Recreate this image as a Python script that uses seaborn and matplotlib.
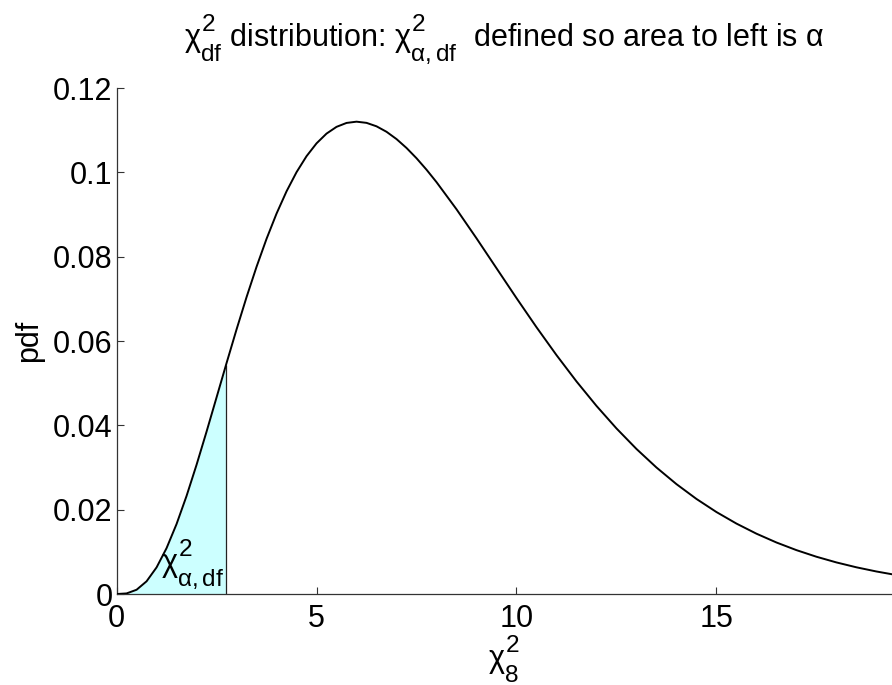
import matplotlib
matplotlib.use("Agg")
import matplotlib.pyplot as plt
import matplotlib._mathtext as _mt
import seaborn as sns
import pandas as pd

# ---- data ----
chi_x = [0.0, 0.25, 0.5, 0.75, 1.0, 1.25, 1.5, 1.75, 2.0, 2.25, 2.5, 2.75,
         3.0, 3.25, 3.5, 3.75, 4.0, 4.25, 4.5, 4.75, 5.0, 5.25, 5.5, 5.75,
         6.0, 6.25, 6.5, 6.75, 7.0, 7.25, 7.5, 7.75, 8.0, 8.5, 9.0, 9.5,
         10.0, 10.5, 11.0, 11.5, 12.0, 12.5, 13.0, 13.5, 14.0, 14.5, 15.0,
         15.5, 16.0, 16.5, 17.0, 17.5, 18.0, 18.5, 19.0, 19.5]
pdf_y = [0.0, 0.000144, 0.001014, 0.003020, 0.006318, 0.010890, 0.016607,
         0.023272, 0.030657, 0.038521, 0.046631, 0.054774, 0.062754, 0.070413,
         0.077608, 0.084240, 0.090224, 0.095504, 0.100047, 0.103838, 0.106881,
         0.109191, 0.110792, 0.111721, 0.112020, 0.111738, 0.110920, 0.109621,
         0.107893, 0.105785, 0.103350, 0.100632, 0.097683, 0.091249, 0.084359,
         0.077268, 0.070187, 0.063277, 0.056662, 0.050424, 0.044618, 0.039276,
         0.034406, 0.030009, 0.026065, 0.022552, 0.019444, 0.016709, 0.014313,
         0.012225, 0.010413, 0.008846, 0.007497, 0.006339, 0.005348, 0.004503]
crit_x = 2.733
crit_pdf = 0.0542
x_ticks = [0, 5, 10, 15]
x_tick_labels = ["0", "5", "10", "15"]
y_ticks = [0, 0.02, 0.04, 0.06, 0.08, 0.10, 0.12]
y_tick_labels = ["0", "0.02", "0.04", "0.06", "0.08", "0.1", "0.12"]
x_limits = [0, 19.39]
y_limits = [0, 0.12]

title_text = (r"$\chi^2_{\mathrm{df}}$ distribution: $\chi^2_{\alpha,\mathrm{df}}$"
              r"  defined so area to left is $\alpha$")
x_label = r"$\chi^2_8$"
y_label = "pdf"
area_label = r"$\chi^2_{\alpha,\mathrm{df}}$"

# ---- style ----
sns.set_theme(style="ticks")
plt.rcParams["font.family"] = ["Liberation Sans", "DejaVu Sans"]
plt.rcParams["mathtext.fontset"] = "custom"
plt.rcParams["mathtext.rm"] = "Liberation Sans"
plt.rcParams["mathtext.it"] = "Liberation Sans"
plt.rcParams["mathtext.bf"] = "Liberation Sans:bold"
plt.rcParams["mathtext.sf"] = "Liberation Sans"
plt.rcParams["text.color"] = "black"
plt.rcParams["axes.labelcolor"] = "black"

# MATLAB-like placement / size of stacked sub/superscripts
_mt.SHRINK_FACTOR = 0.8
_mt.FontConstantsBase.sup1 = 0.85
_mt.FontConstantsBase.sub2 = 0.9
_mt.FontConstantsBase.sub1 = 0.6

FS = 22
fig = plt.figure(figsize=(8.92, 6.85), dpi=100)
ax = fig.add_axes([0.1307, 0.1328, 0.8693, 0.7387])

df = pd.DataFrame({"x": chi_x, "pdf": pdf_y})

# shaded area left of the critical value
fill_x = [x for x in chi_x if x < crit_x] + [crit_x]
fill_y = [y for x, y in zip(chi_x, pdf_y) if x < crit_x] + [crit_pdf]
ax.fill_between(fill_x, 0, fill_y, color="#ccffff", linewidth=0, zorder=1)
ax.vlines(crit_x, 0, crit_pdf, color="#222222", linewidth=0.9, zorder=2)

sns.lineplot(data=df, x="x", y="pdf", ax=ax, color="black", linewidth=1.4,
             estimator=None, sort=True, zorder=3)

ax.text(1.1, 0.0052, area_label, fontsize=FS, ha="left", va="baseline", zorder=4)

ax.set_xlim(x_limits)
ax.set_ylim(y_limits)
ax.set_xticks(x_ticks)
ax.set_xticklabels(x_tick_labels)
ax.set_yticks(y_ticks)
ax.set_yticklabels(y_tick_labels)
ax.tick_params(axis="both", direction="in", length=5, width=0.8,
               labelsize=FS, color="#333333", labelcolor="black")
ax.tick_params(axis="x", pad=7)
ax.tick_params(axis="y", pad=3)

for side in ["top", "right"]:
    ax.spines[side].set_visible(False)
for side in ["left", "bottom"]:
    ax.spines[side].set_color("#333333")
    ax.spines[side].set_linewidth(0.9)

ax.set_xlabel(x_label, fontsize=FS, labelpad=0)
ax.set_ylabel(y_label, fontsize=FS, labelpad=6)
ax.set_title(title_text, fontsize=FS, pad=30)

fig.savefig("out.png", dpi=100)
